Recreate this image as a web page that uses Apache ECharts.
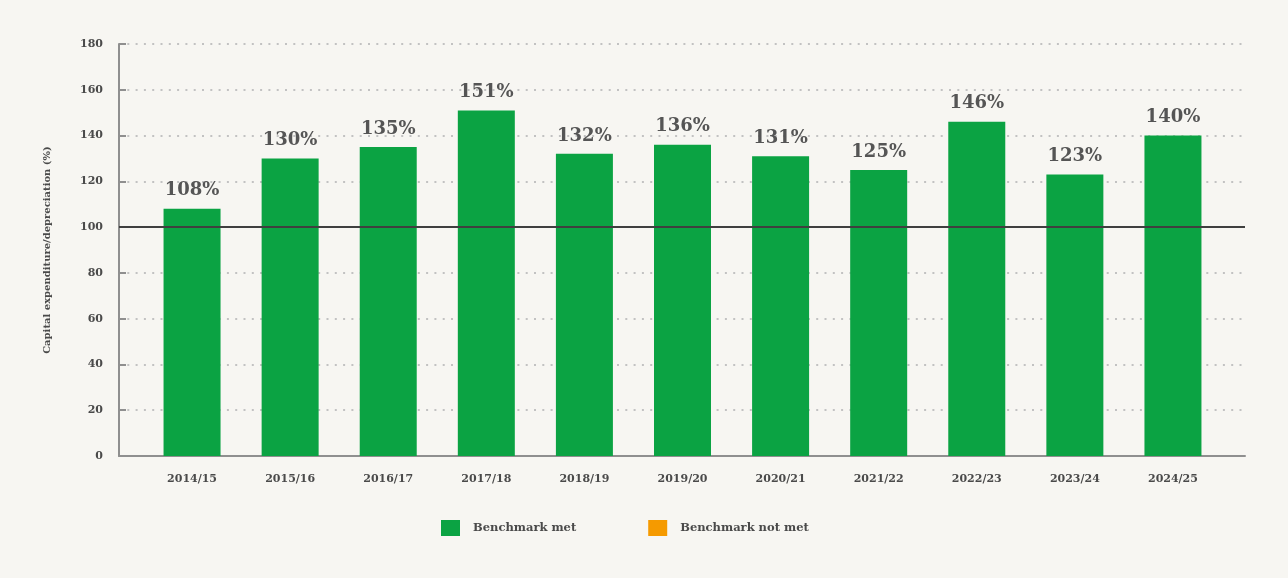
<!DOCTYPE html>
<html>
<head>
<meta charset="utf-8">
<script src="https://cdn.jsdelivr.net/npm/echarts@6/dist/echarts.min.js"></script>
<style>
  html, body { margin: 0; padding: 0; background: #f7f6f2; }
  #chart { width: 1288px; height: 578px; }
</style>
</head>
<body>
<div id="chart"></div>
<script>
// Capital expenditure as a share of depreciation, by financial year
const years = ['2014/15', '2015/16', '2016/17', '2017/18', '2018/19', '2019/20',
               '2020/21', '2021/22', '2022/23', '2023/24', '2024/25'];
const ratioPct = [108, 130, 135, 151, 132, 136, 131, 125, 146, 123, 140];
const benchmark = 100;
const yTicks = { min: 0, max: 180, step: 20 };

const GREEN = '#0ba343';
const ORANGE = '#f59a00';
const TEXT = '#4a4a4a';
const FONT = '"DejaVu Serif", serif';

const chart = echarts.init(document.getElementById('chart'));

chart.setOption({
  backgroundColor: '#f7f6f2',
  animation: false,
  textStyle: { fontFamily: FONT },
  legend: {
    left: 436,
    top: 515,
    itemWidth: 19,
    itemHeight: 16,
    itemGap: 72,
    icon: 'rect',
    data: ['Benchmark met', 'Benchmark not met'],
    textStyle: { color: TEXT, fontSize: 11.5, fontWeight: 'bold', fontFamily: FONT, padding: [0, 0, 0, 8] }
  },
  grid: [
    // frame grid: y axis, dotted guides, baseline and benchmark line
    { left: 119, right: 43, top: 44, bottom: 122 },
    // bar grid, inset from the frame
    { left: 143, right: 66, top: 44, bottom: 122 }
  ],
  xAxis: [
    {
      gridIndex: 0, type: 'value', min: 0, max: 1,
      axisLine: { show: true, lineStyle: { color: '#8f8f8f', width: 2 } },
      axisTick: { show: false }, axisLabel: { show: false }, splitLine: { show: false }
    },
    {
      gridIndex: 1, type: 'category', data: years,
      axisLine: { show: false }, axisTick: { show: false },
      axisLabel: { color: TEXT, fontSize: 11, fontWeight: 'bold', fontFamily: FONT, margin: 18 }
    }
  ],
  yAxis: [
    {
      gridIndex: 0, type: 'value', min: yTicks.min, max: yTicks.max, interval: yTicks.step,
      name: 'Capital expenditure/depreciation (%)',
      nameLocation: 'middle', nameGap: 67, nameRotate: 90,
      nameTextStyle: { color: TEXT, fontSize: 10, fontWeight: 'bold', fontFamily: FONT },
      axisLine: { show: true, lineStyle: { color: '#8f8f8f', width: 2 } },
      axisTick: { show: true, inside: true, length: 7, lineStyle: { color: '#8f8f8f', width: 2 } },
      axisLabel: { color: TEXT, fontSize: 11, fontWeight: 'bold', fontFamily: FONT, margin: 16 },
      splitLine: { show: true, lineStyle: { color: '#c2c2c2', width: 2, type: [2, 6.3] } }
    },
    {
      gridIndex: 1, type: 'value', min: yTicks.min, max: yTicks.max, interval: yTicks.step,
      show: false, splitLine: { show: false }
    }
  ],
  series: [
    {
      name: 'Benchmark met',
      type: 'bar',
      xAxisIndex: 1, yAxisIndex: 1,
      data: ratioPct,
      barWidth: 57,
      barGap: '-100%',
      itemStyle: { color: GREEN },
      label: {
        show: true, position: 'top', distance: 9,
        formatter: p => '{v|' + p.value + '%}',
        rich: {
          v: { color: '#555555', fontSize: 18, fontWeight: 'bold', fontFamily: 'DejaVu Serif' }
        }
      },
      z: 2
    },
    {
      name: 'Benchmark not met',
      type: 'bar',
      xAxisIndex: 1, yAxisIndex: 1,
      data: [],
      barWidth: 57,
      itemStyle: { color: ORANGE }
    },
    {
      name: 'benchmark',
      type: 'line',
      xAxisIndex: 0, yAxisIndex: 0,
      data: [],
      z: 10,
      markLine: {
        silent: true, symbol: 'none', z: 10,
        label: { show: false },
        lineStyle: { color: '#3f3f3f', width: 2, type: 'solid' },
        data: [{ yAxis: benchmark }]
      }
    }
  ]
});
</script>
</body>
</html>
